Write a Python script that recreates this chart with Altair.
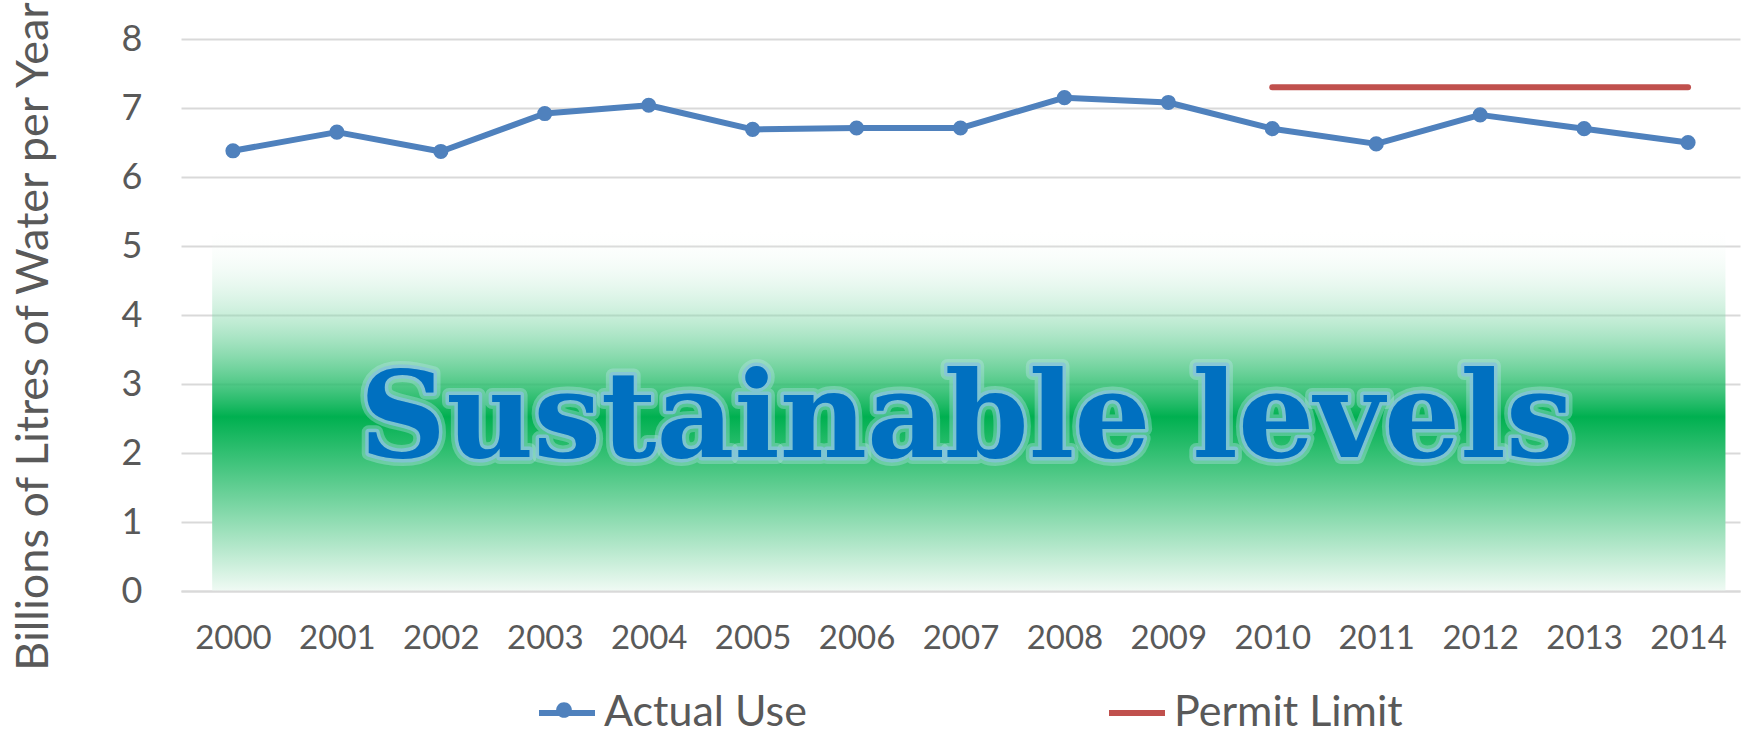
import altair as alt
import pandas as pd

# Annual water use, billions of litres
years = list(range(2000, 2015))
actual_use = [6.38, 6.65, 6.37, 6.92, 7.04, 6.69, 6.71, 6.71, 7.15, 7.08, 6.70, 6.48, 6.90, 6.70, 6.50]

# Permit limit in force from 2010
permit_years = [2010, 2011, 2012, 2013, 2014]
permit_limit = [7.3, 7.3, 7.3, 7.3, 7.3]

# Shaded "sustainable" band
band_x = [1999.8]
band_x2 = [2014.36]
band_low = [0.0]
band_high = [5.26]

label_text = ["Sustainable levels"]
label_x = [2007]
label_y = [1.94]

GREY = "#595959"
GRID = "#d9d9d9"
BLUE = "#4f81bd"
RED = "#c0504d"
FONT = "Lato"

lines_df = pd.DataFrame(
    {"year": years + permit_years,
     "value": actual_use + permit_limit,
     "series": ["Actual Use"] * len(years) + ["Permit Limit"] * len(permit_years)}
)
actual_df = pd.DataFrame({"year": years, "value": actual_use,
                          "marker": ["Actual Use"] * len(years)})
band_df = pd.DataFrame({"x": band_x, "x2": band_x2, "y": band_low, "y2": band_high})
label_df = pd.DataFrame({"x": label_x, "y": label_y, "t": label_text})

x_scale = alt.Scale(domain=[1999.5, 2014.5], nice=False, zero=False)
y_scale = alt.Scale(domain=[0, 8], nice=False)

x_axis = alt.Axis(
    values=years, format="d", title=None, ticks=False, grid=False,
    domain=True, domainColor=GRID, domainWidth=2,
    labelFont=FONT, labelFontSize=33, labelColor=GREY, labelPadding=31,
    labelFlush=False, labelOverlap=False, zindex=1,
)
y_axis = alt.Axis(
    values=list(range(0, 9)), format="d", title="Billions of Litres of Water per Year",
    ticks=False, domain=False, grid=True, gridColor=GRID, gridWidth=2,
    labelFont=FONT, labelFontSize=36, labelColor=GREY, labelPadding=39,
    titleFont=FONT, titleFontSize=45, titleColor=GREY, titleFontWeight="normal",
    titleAngle=270, titleAlign="center", titleBaseline="alphabetic",
    titleX=-134, titleY=297, titleLimit=0,
)

gradient = alt.LinearGradient(
    gradient="linear", x1=0, x2=0, y1=0, y2=1,
    stops=[
        alt.GradientStop(color="rgba(255,255,255,0)", offset=0),
        alt.GradientStop(color="#00b050", offset=0.52),
        alt.GradientStop(color="#f0faf4", offset=1),
    ],
)

band = alt.Chart(band_df).mark_rect(fill=gradient).encode(
    x=alt.X("x:Q", scale=x_scale, axis=x_axis),
    x2="x2:Q",
    y=alt.Y("y:Q", scale=y_scale, axis=y_axis),
    y2="y2:Q",
)

text_base = alt.Chart(label_df).encode(
    x=alt.X("x:Q", scale=x_scale),
    y=alt.Y("y:Q", scale=y_scale),
    text="t:N",
)
text_props = dict(font="DejaVu Serif", fontWeight="bold", fontSize=120,
                  align="center", baseline="alphabetic", dx=6)
glow_outer = text_base.mark_text(**text_props, fill="#0070c0", stroke="#bfe3f2",
                                 strokeWidth=14, strokeOpacity=0.35, strokeJoin="round")
glow_inner = text_base.mark_text(**text_props, fill="#0070c0", stroke="#86c3dc",
                                 strokeWidth=7, strokeOpacity=0.8, strokeJoin="round")
text_top = text_base.mark_text(**text_props, fill="#0070c0")

# legend symbols: a 56px line per series, with a marker dot overlaid on "Actual Use"
LEGEND_X, LEGEND_Y = 355, 643
dot_path = "M0.28,0A0.28,0.28,0,1,1,-0.28,0A0.28,0.28,0,1,1,0.28,0Z"

line_legend = alt.Legend(
    title=None, orient="none", direction="horizontal", legendX=LEGEND_X, legendY=LEGEND_Y,
    labelFont=FONT, labelFontSize=43, labelColor=GREY, labelOffset=6, labelLimit=0,
    symbolType="stroke", symbolSize=3136, symbolStrokeWidth=6,
    columnPadding=290, padding=0,
)
dot_legend = alt.Legend(
    title=None, orient="none", direction="horizontal", legendX=LEGEND_X, legendY=LEGEND_Y,
    labelFont=FONT, labelFontSize=43, labelExpr="''", labelOffset=6,
    symbolType=dot_path, symbolSize=3136, symbolStrokeWidth=0, symbolOpacity=1,
    padding=0,
)

lines = alt.Chart(lines_df).mark_line(strokeWidth=6, strokeCap="round", strokeJoin="round").encode(
    x=alt.X("year:Q", scale=x_scale),
    y=alt.Y("value:Q", scale=y_scale),
    color=alt.Color("series:N",
                    scale=alt.Scale(domain=["Actual Use", "Permit Limit"], range=[BLUE, RED]),
                    legend=line_legend),
)

points = alt.Chart(actual_df).mark_point(filled=True, size=230, opacity=1).encode(
    x=alt.X("year:Q", scale=x_scale),
    y=alt.Y("value:Q", scale=y_scale),
    fill=alt.Fill("marker:N", scale=alt.Scale(domain=["Actual Use"], range=[BLUE]),
                  legend=dot_legend),
)

chart = alt.layer(band, glow_outer, glow_inner, text_top, lines, points).properties(
    width=1559, height=552,
    padding={"left": 181, "top": 39, "right": 6, "bottom": 141},
    autosize=alt.AutoSizeParams(type="none"),
    background="white",
).configure_view(stroke=None)

chart.save("out.html", embed_options={"renderer": "svg", "actions": False})
